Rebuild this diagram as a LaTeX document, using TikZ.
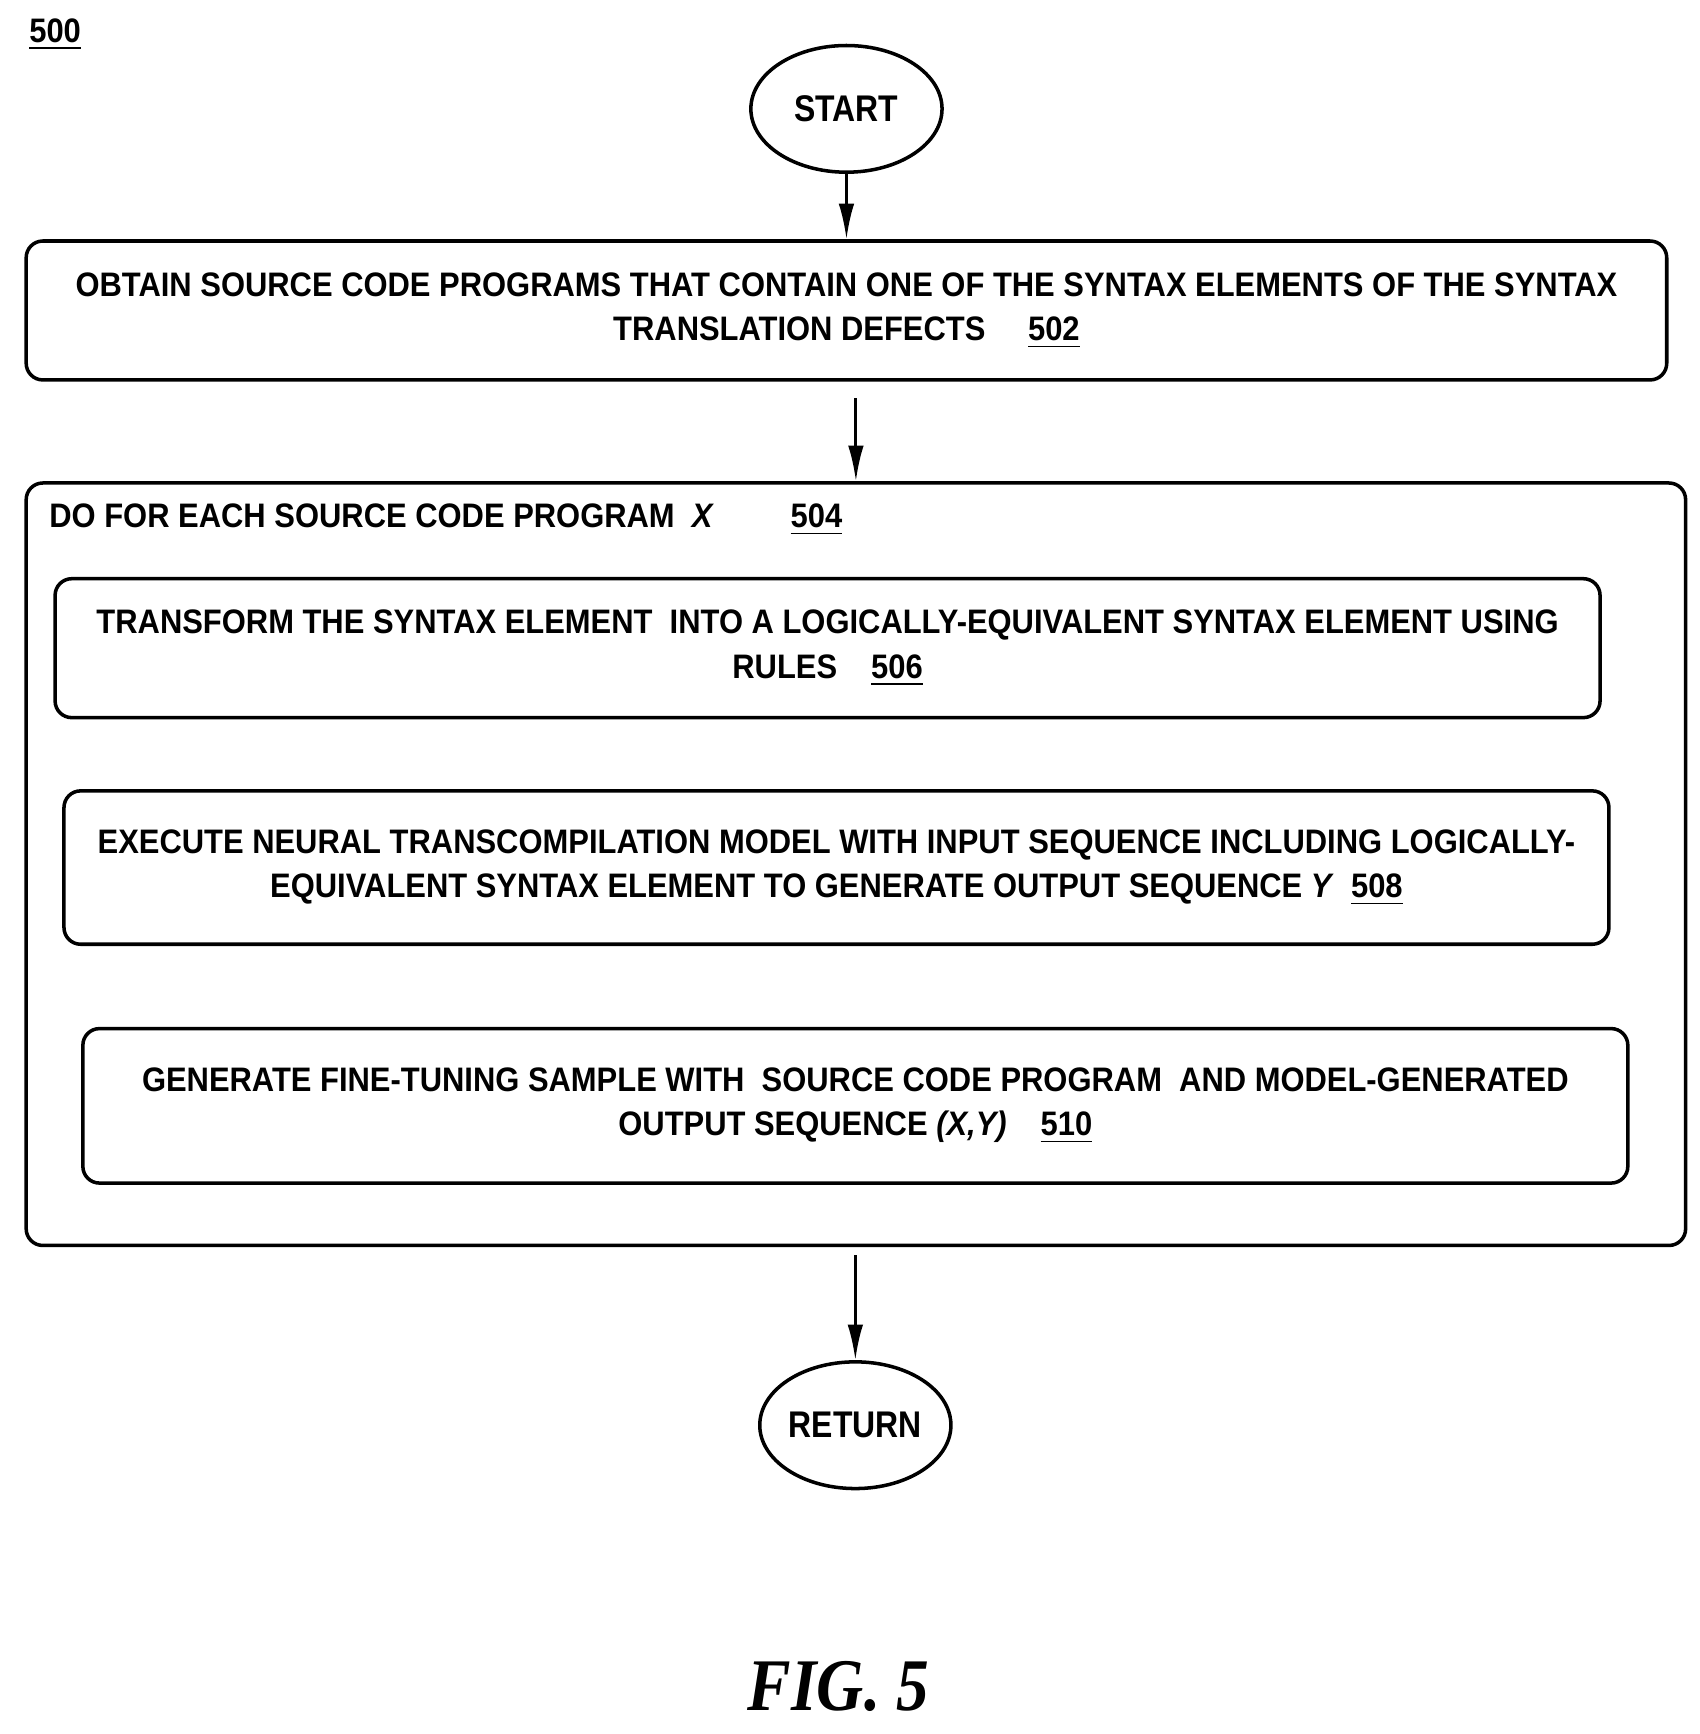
\documentclass[tikz,border=0pt]{standalone}
\usepackage{fontspec}
\setmainfont{Liberation Sans}
\newfontfamily\figfont{Liberation Serif}
\usetikzlibrary{arrows.meta,shapes.geometric}
\begin{document}
\begin{tikzpicture}[x=0.01cm,y=-0.01cm,
  txt/.style={font=\fontsize{8.7}{11.4}\selectfont\addfontfeatures{FakeStretch=0.91}\bfseries,align=center},
  box/.style={draw,line width=0.9pt,rounded corners=0.15cm,inner sep=0pt,txt},
  term/.style={draw,ellipse,line width=0.9pt,minimum width=1.72cm,minimum height=1.14cm,inner sep=0pt,txt,font=\fontsize{9.5}{11}\selectfont\addfontfeatures{FakeStretch=0.86}\bfseries},
  arr/.style={line width=0.75pt,-{Latex[length=0.32cm,width=0.14cm]}}]
\useasboundingbox (0,0) rectangle (1530,1561);
\node[txt,anchor=west] (lbl) at (14,31) {\underline{500}};
\node[term] (start) at (762,98) {START};
\node[box,minimum width=14.76cm,minimum height=1.25cm] (b502) at (762,279.5)
 {OBTAIN SOURCE CODE PROGRAMS THAT CONTAIN ONE OF THE SYNTAX ELEMENTS OF THE SYNTAX\\TRANSLATION DEFECTS\quad\ \underline{502}};
\node[box,minimum width=14.93cm,minimum height=6.86cm] (b504) at (770.5,778) {};
\node[txt,anchor=west] (t504) at (32,468) {DO FOR EACH SOURCE CODE PROGRAM \ \textit{X}\qquad\ \underline{504}};
\node[box,minimum width=13.9cm,minimum height=1.25cm] (b506) at (745,583.5)
 {TRANSFORM THE SYNTAX ELEMENT \ INTO A LOGICALLY-EQUIVALENT SYNTAX ELEMENT USING\\RULES\quad\underline{506}};
\node[box,minimum width=13.9cm,minimum height=1.38cm] (b508) at (753,781)
 {EXECUTE NEURAL TRANSCOMPILATION MODEL WITH INPUT SEQUENCE INCLUDING LOGICALLY-\\EQUIVALENT SYNTAX ELEMENT TO GENERATE OUTPUT SEQUENCE \textit{Y} \ \underline{508}};
\node[box,minimum width=13.9cm,minimum height=1.39cm] (b510) at (770,995.5)
 {GENERATE FINE-TUNING SAMPLE WITH \ SOURCE CODE PROGRAM \ AND MODEL-GENERATED\\OUTPUT SEQUENCE \textit{(X,Y)}\quad\underline{510}};
\node[term] (ret) at (770,1283) {RETURN};
\node[font=\fontsize{19}{21}\selectfont\figfont\addfontfeatures{FakeStretch=0.88}\bfseries\itshape] (fig) at (755,1518) {FIG. 5};
\draw[arr] (start.south) -- (b502.north);
\draw[arr,shorten <=0.15cm] (b502.south -| b504.north) -- (b504.north);
\draw[arr,shorten <=0.07cm] (b504.south -| ret.north) -- (ret.north);
\end{tikzpicture}
\end{document}
